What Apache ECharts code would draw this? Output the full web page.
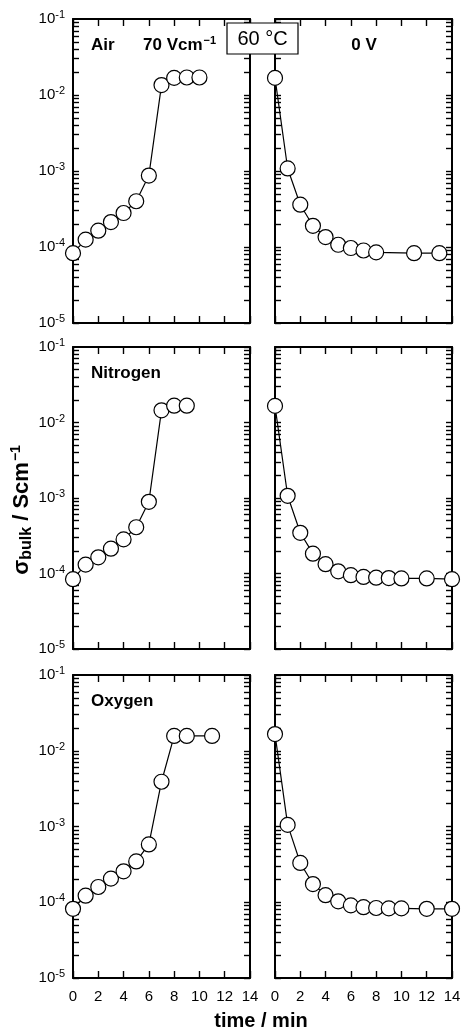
<!DOCTYPE html>
<html>
<head>
<meta charset="utf-8">
<script src="https://cdn.jsdelivr.net/npm/echarts@6.0.0/dist/echarts.min.js"></script>
<style>
  html, body { margin: 0; padding: 0; background: #fff; }
  #chart { width: 466px; height: 1034px; }
</style>
</head>
<body>
<div id="chart"></div>
<script>
// ---------- data ----------
const airOnT  = [0, 1, 2, 3, 4, 5, 6, 7, 8, 9, 10];
const airOn   = [8.3e-5, 1.25e-4, 1.64e-4, 2.13e-4, 2.8e-4, 4.0e-4, 8.7e-4, 1.35e-2, 1.68e-2, 1.7e-2, 1.7e-2];
const airOffT = [0, 1, 2, 3, 4, 5, 6, 7, 8, 11, 13];
const airOff  = [1.68e-2, 1.08e-3, 3.6e-4, 1.9e-4, 1.35e-4, 1.07e-4, 9.7e-5, 9.0e-5, 8.5e-5, 8.3e-5, 8.3e-5];

const n2OnT  = [0, 1, 2, 3, 4, 5, 6, 7, 8, 9];
const n2On   = [8.4e-5, 1.31e-4, 1.64e-4, 2.13e-4, 2.83e-4, 4.1e-4, 8.9e-4, 1.45e-2, 1.67e-2, 1.67e-2];
const n2OffT = [0, 1, 2, 3, 4, 5, 6, 7, 8, 9, 10, 12, 14];
const n2Off  = [1.66e-2, 1.07e-3, 3.46e-4, 1.83e-4, 1.33e-4, 1.07e-4, 9.5e-5, 9.0e-5, 8.8e-5, 8.7e-5, 8.6e-5, 8.6e-5, 8.4e-5];

const o2OnT  = [0, 1, 2, 3, 4, 5, 6, 7, 8, 9, 11];
const o2On   = [8.2e-5, 1.22e-4, 1.59e-4, 2.05e-4, 2.56e-4, 3.46e-4, 5.8e-4, 3.9e-3, 1.57e-2, 1.57e-2, 1.57e-2];
const o2OffT = [0, 1, 2, 3, 4, 5, 6, 7, 8, 9, 10, 12, 14];
const o2Off  = [1.66e-2, 1.05e-3, 3.3e-4, 1.74e-4, 1.24e-4, 1.03e-4, 9.1e-5, 8.6e-5, 8.4e-5, 8.3e-5, 8.3e-5, 8.2e-5, 8.2e-5];

// ticks
const xMin = 0, xMax = 14, xStep = 2;
const yDecades = [1e-5, 1e-4, 1e-3, 1e-2, 1e-1];
const minorMult = [1, 2, 3, 4, 5, 6, 7, 8, 9];

// ---------- build ----------
const yTickValues = [];
for (let i = 0; i < yDecades.length - 1; i++) {
  for (const m of minorMult) yTickValues.push(+(m * yDecades[i]).toPrecision(3));
}
yTickValues.push(yDecades[yDecades.length - 1]);

const panels = [
  { t: airOnT, v: airOn }, { t: airOffT, v: airOff },
  { t: n2OnT,  v: n2On  }, { t: n2OffT,  v: n2Off  },
  { t: o2OnT,  v: o2On  }, { t: o2OffT,  v: o2Off  }
];

const FONT = '"Liberation Sans", Arial, sans-serif';
const colLeft = [73, 275];
const rowTop = [19, 347, 675];
const rowH = [304, 302, 303];
const panelW = 177;

const grids = [], xAxes = [], yAxes = [], series = [];
const lineSt = { color: '#000', width: 2 };
const tickSt = { color: '#000', width: 1.4 };

panels.forEach((p, i) => {
  const row = Math.floor(i / 2), col = i % 2;
  grids.push({ left: colLeft[col], top: rowTop[row], width: panelW, height: rowH[row] });
  ['bottom', 'top'].forEach(pos => {
    xAxes.push({
      gridIndex: i, type: 'value', min: xMin, max: xMax, interval: xStep, position: pos,
      axisLine: { show: true, onZero: false, lineStyle: lineSt },
      axisTick: { show: true, inside: true, length: 7, lineStyle: tickSt },
      axisLabel: { show: pos === 'bottom' && row === 2, fontSize: 15, color: '#000', fontFamily: FONT, margin: 11 },
      splitLine: { show: false }
    });
  });
  ['left', 'right'].forEach(pos => {
    yAxes.push({
      gridIndex: i, type: 'log', logBase: 10, min: yDecades[0], max: yDecades[yDecades.length - 1],
      splitNumber: 4, position: pos,
      axisLine: { show: true, onZero: false, lineStyle: lineSt },
      axisTick: { show: true, inside: true, length: 6, lineStyle: tickSt, customValues: yTickValues },
      axisLabel: {
        show: pos === 'left' && col === 0, fontSize: 15, color: '#000', fontFamily: FONT, margin: 8,
        formatter: v => '10{s|' + Math.round(Math.log10(v)) + '}',
        rich: { s: { fontSize: 11, color: '#000', fontFamily: FONT, padding: [0, 0, 8, 0] } }
      },
      splitLine: { show: false }, minorTick: { show: false }
    });
  });
  series.push({
    type: 'line', xAxisIndex: 2 * i, yAxisIndex: 2 * i,
    data: p.t.map((t, k) => [t, p.v[k]]),
    symbol: 'circle', symbolSize: 15, clip: false, z: 5,
    itemStyle: { color: '#fff', borderColor: '#000', borderWidth: 1.2 },
    lineStyle: { color: '#000', width: 1.2 },
    emphasis: { disabled: true }, animation: false
  });
});

const boldTxt = (text, x, y, align, size) => ({
  type: 'text', x: x, y: y, z: 100,
  style: { text: text, fill: '#000', font: 'bold ' + size + 'px ' + FONT, textAlign: align, textVerticalAlign: 'middle' }
});

const graphic = [
  boldTxt('Air', 91, 45, 'left', 17),
  {
    type: 'text', x: 143, y: 45, z: 100,
    style: {
      text: '70 Vcm{s|\u22121}', fill: '#000', font: 'bold 17px ' + FONT, textAlign: 'left', textVerticalAlign: 'middle',
      rich: { s: { fontSize: 11, fontWeight: 'bold', fontFamily: FONT, fill: '#000', padding: [0, 0, 9, 1] } }
    }
  },
  boldTxt('0 V', 364, 45, 'center', 17),
  boldTxt('Nitrogen', 91, 373, 'left', 17),
  boldTxt('Oxygen', 91, 701, 'left', 17),
  {
    type: 'rect', z: 100,
    shape: { x: 227, y: 23, width: 71, height: 31 },
    style: { fill: '#fff', stroke: '#000', lineWidth: 1.2 }
  },
  {
    type: 'text', x: 262.5, y: 39.5, z: 101,
    style: { text: '60 \u00B0C', fill: '#000', font: '20px ' + FONT, textAlign: 'center', textVerticalAlign: 'middle' }
  },
  {
    type: 'text', x: 22, y: 510, rotation: Math.PI / 2, z: 100,
    style: {
      text: '\u03C3{sub|bulk} / Scm{sup|\u22121}', fill: '#000', font: 'bold 22px ' + FONT,
      textAlign: 'center', textVerticalAlign: 'middle',
      rich: {
        sub: { fontSize: 16, fontWeight: 'bold', fontFamily: FONT, fill: '#000', padding: [10, 0, 0, 0] },
        sup: { fontSize: 14, fontWeight: 'bold', fontFamily: FONT, fill: '#000', padding: [0, 0, 12, 1] }
      }
    }
  },
  boldTxt('time / min', 261, 1021, 'center', 20)
];

const chart = echarts.init(document.getElementById('chart'), null, { renderer: 'canvas' });
chart.setOption({
  animation: false,
  backgroundColor: '#fff',
  grid: grids, xAxis: xAxes, yAxis: yAxes, series: series, graphic: graphic
});
</script>
</body>
</html>
